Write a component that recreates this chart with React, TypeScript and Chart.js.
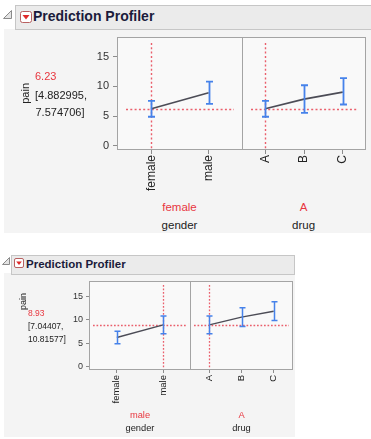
import React, { useEffect, useRef } from 'react';
import { Chart, registerables } from 'chart.js';

Chart.register(...registerables);

// ---------- data ----------
const genders = ['female', 'male'];
const drugs = ['A', 'B', 'C'];
const yTickLabels = [0, 5, 10, 15];
const yMinorTicks = [2.5, 7.5, 12.5, 17.5];
const yMin = -0.72;
const yMax = 18.33;
const responseName = 'pain';

// Profiler 1: gender = female, drug = A
const p1Gender = 'female';
const p1Drug = 'A';
const p1Pain = 6.23;
const p1PainText = '6.23';
const p1CI = ['[4.882995,', '7.574706]'];
const p1GenderPain = [6.23, 8.93];
const p1GenderLower = [4.882995, 7.04407];
const p1GenderUpper = [7.574706, 10.81577];
const p1DrugPain = [6.23, 7.85, 9.05];
const p1DrugLower = [4.882995, 5.55, 6.95];
const p1DrugUpper = [7.574706, 10.2, 11.4];

// Profiler 2: gender = male, drug = A
const p2Gender = 'male';
const p2Drug = 'A';
const p2Pain = 8.93;
const p2PainText = '8.93';
const p2CI = ['[7.04407,', '10.81577]'];
const p2GenderPain = [6.23, 8.93];
const p2GenderLower = [4.882995, 7.04407];
const p2GenderUpper = [7.574706, 10.81577];
const p2DrugPain = [8.93, 10.6, 11.85];
const p2DrugLower = [7.04407, 8.6, 9.85];
const p2DrugUpper = [10.81577, 12.6, 13.9];

const FONT = '"Liberation Sans", Arial, sans-serif';
const RED = '#e8363f';

type PanelProps = {
  left: number;
  top: number;
  width: number;
  height: number;
  categories: string[];
  values: number[];
  lower: number[];
  upper: number[];
  current: string;
  currentValue: number;
  yAxisWidth: number;
  padTop: number;
  xAxisHeight: number;
  small: boolean;
  yLabel?: { text: string; cx: number; cy: number; size: number };
};

function Panel(p: PanelProps) {
  const ref = useRef<HTMLCanvasElement>(null);
  useEffect(() => {
    const s = p.small;
    const showY = p.yAxisWidth > 0;
    const curIdx = p.categories.indexOf(p.current);
    const tickLen = s ? 3 : 4;
    const plugin: any = {
      id: 'profiler',
      beforeDraw(chart: any) {
        const { ctx, chartArea: a } = chart;
        ctx.save();
        ctx.fillStyle = '#f9f9f9';
        ctx.fillRect(a.left, a.top, a.right - a.left, a.bottom - a.top);
        ctx.restore();
      },
      beforeDatasetsDraw(chart: any) {
        const { ctx, chartArea: a, scales } = chart;
        const xs = scales.x;
        const ys = scales.y;
        ctx.save();
        ctx.strokeStyle = '#ea5f6c';
        ctx.lineWidth = s ? 1.3 : 1.4;
        ctx.setLineDash(s ? [1.7, 1.8] : [2, 2.3]);
        const trimH = s ? 4 : 9;
        const trimV = s ? 4 : 6;
        const yy = Math.round(ys.getPixelForValue(p.currentValue)) + 0.5;
        ctx.beginPath();
        ctx.moveTo(a.left + trimH, yy);
        ctx.lineTo(a.right - trimH, yy);
        ctx.stroke();
        const xx = Math.round(xs.getPixelForValue(curIdx)) + 0.5;
        ctx.beginPath();
        ctx.moveTo(xx, a.top + trimV);
        ctx.lineTo(xx, a.bottom);
        ctx.stroke();
        ctx.restore();
      },
      afterDatasetsDraw(chart: any) {
        const { ctx, scales } = chart;
        const xs = scales.x;
        const ys = scales.y;
        const cap = s ? 3 : 3.5;
        ctx.save();
        ctx.strokeStyle = '#4682ea';
        ctx.lineWidth = s ? 1.5 : 1.8;
        p.categories.forEach((_, i) => {
          const px = Math.round(xs.getPixelForValue(i)) + 0.5;
          const yl = ys.getPixelForValue(p.lower[i]);
          const yh = ys.getPixelForValue(p.upper[i]);
          ctx.beginPath();
          ctx.moveTo(px, yl);
          ctx.lineTo(px, yh);
          ctx.moveTo(px - cap, yl);
          ctx.lineTo(px + cap, yl);
          ctx.moveTo(px - cap, yh);
          ctx.lineTo(px + cap, yh);
          ctx.stroke();
        });
        ctx.restore();
      },
      afterDraw(chart: any) {
        const { ctx, chartArea: a } = chart;
        ctx.save();
        ctx.strokeStyle = '#a4a4a4';
        ctx.lineWidth = 1;
        ctx.strokeRect(a.left + 0.5, a.top + 0.5, a.right - a.left - 1, a.bottom - a.top - 1);
        if (p.yLabel) {
          const L = p.yLabel;
          ctx.translate(L.cx - p.left, L.cy - p.top);
          ctx.rotate(-Math.PI / 2);
          ctx.font = `${L.size}px ${FONT}`;
          ctx.fillStyle = '#222';
          ctx.textAlign = 'center';
          ctx.textBaseline = 'middle';
          ctx.fillText(L.text, 0, 0);
        }
        ctx.restore();
      },
    };
    const zeroPad = (sc: any) => {
      sc.paddingLeft = 0;
      sc.paddingRight = 0;
      sc.paddingTop = 0;
      sc.paddingBottom = 0;
    };
    const allY = [...yTickLabels, ...yMinorTicks].sort((a, b) => a - b);
    const chart = new Chart(ref.current as HTMLCanvasElement, {
      type: 'line',
      data: {
        datasets: [
          {
            data: p.values.map((v, i) => ({ x: i, y: v })),
            borderColor: '#4c4c56',
            borderWidth: s ? 1.4 : 1.7,
            pointRadius: 0,
            tension: 0,
            fill: false,
          },
        ],
      },
      options: {
        animation: false,
        responsive: false,
        maintainAspectRatio: false,
        devicePixelRatio: 1,
        events: [],
        layout: { padding: { top: p.padTop, left: 0, right: 0, bottom: 0 } },
        plugins: { legend: { display: false }, tooltip: { enabled: false } },
        scales: {
          x: {
            type: 'linear',
            min: -0.6,
            max: p.categories.length - 1 + 0.6,
            afterBuildTicks: (sc: any) => {
              sc.ticks = p.categories.map((_, i) => ({ value: i }));
            },
            afterFit: (sc: any) => {
              sc.height = p.xAxisHeight;
              zeroPad(sc);
            },
            ticks: {
              autoSkip: false,
              minRotation: 90,
              maxRotation: 90,
              padding: s ? 2 : 1,
              color: '#222',
              font: { family: FONT, size: s ? 9.5 : 12 },
              callback: (v: any) => p.categories[v as number] ?? '',
            },
            grid: {
              drawOnChartArea: false,
              drawTicks: true,
              tickLength: tickLen,
              tickColor: '#8c8c8c',
              tickWidth: 1,
            },
            border: { display: false },
          },
          y: {
            type: 'linear',
            display: showY,
            min: yMin,
            max: yMax,
            afterBuildTicks: (sc: any) => {
              sc.ticks = allY.map((v) => ({ value: v }));
            },
            afterFit: (sc: any) => {
              if (showY) sc.width = p.yAxisWidth;
              zeroPad(sc);
            },
            ticks: {
              padding: s ? 3 : 4,
              color: '#333',
              font: { family: FONT, size: s ? 9 : 11 },
              callback: (v: any) => (yTickLabels.includes(v as number) ? String(v) : ''),
            },
            grid: {
              drawOnChartArea: false,
              drawTicks: true,
              tickLength: tickLen,
              tickColor: '#8c8c8c',
              tickWidth: 1,
            },
            border: { display: false },
          },
        },
      } as any,
      plugins: [plugin],
    });
    return () => chart.destroy();
  }, []);
  return (
    <canvas
      ref={ref}
      width={p.width}
      height={p.height}
      style={{ position: 'absolute', left: p.left, top: p.top, width: p.width, height: p.height }}
    />
  );
}

function Txt(props: {
  x: number;
  y: number;
  size: number;
  color?: string;
  bold?: boolean;
  center?: boolean;
  children: React.ReactNode;
}) {
  const { x, y, size, color = '#222', bold, center, children } = props;
  return (
    <div
      style={{
        position: 'absolute',
        left: center ? x - 60 : x,
        top: y,
        width: center ? 120 : undefined,
        textAlign: center ? 'center' : 'left',
        fontSize: size,
        lineHeight: `${size}px`,
        fontWeight: bold ? 'bold' : 'normal',
        color,
        whiteSpace: 'nowrap',
        fontFamily: FONT,
      }}
    >
      {children}
    </div>
  );
}

export default function App() {
  return (
    <div
      style={{
        position: 'absolute',
        left: 0,
        top: 0,
        width: 371,
        height: 439,
        background: '#ffffff',
        overflow: 'hidden',
        fontFamily: FONT,
      }}
    >
      {/* region backgrounds */}
      <div style={{ position: 'absolute', left: 4, top: 29, width: 367, height: 204, background: '#f4f4f4' }} />
      <div style={{ position: 'absolute', left: 4, top: 273, width: 291, height: 164, background: '#f4f4f4' }} />
      {/* header bars */}
      <div
        style={{
          position: 'absolute',
          left: 15,
          top: 5,
          width: 360,
          height: 23,
          background: '#ebebeb',
          border: '1px solid #c6c6c6',
        }}
      />
      <div
        style={{
          position: 'absolute',
          left: 11,
          top: 255,
          width: 282,
          height: 18,
          background: '#ebebeb',
          border: '1px solid #c6c6c6',
        }}
      />
      <svg style={{ position: 'absolute', left: 0, top: 0 }} width={371} height={439}>
        <polygon points="11.5,10.5 11.5,18.5 3.5,18.5" fill="#e4e4e4" stroke="#8a8a8a" strokeWidth={1} />
        <rect x={20.5} y={11.5} width={11} height={11} rx={2} fill="#ffffff" stroke="#b86060" />
        <polygon points="22.5,15 29.5,15 26,19.5" fill="#e02a2a" />
        <polygon points="9.5,257.5 9.5,264.5 2.5,264.5" fill="#e4e4e4" stroke="#8a8a8a" strokeWidth={1} />
        <rect x={14.5} y={258.5} width={9} height={9} rx={1.5} fill="#ffffff" stroke="#b86060" />
        <polygon points="16.2,261.5 21.8,261.5 19,265" fill="#e02a2a" />
      </svg>
      <Txt x={33} y={9} size={14} bold color="#1b1b3b">
        Prediction Profiler
      </Txt>
      <Txt x={26} y={258.5} size={11.5} bold color="#1b1b3b">
        Prediction Profiler
      </Txt>

      {/* ---------- profiler 1 ---------- */}
      <Panel
        left={0}
        top={30}
        width={243}
        height={170}
        categories={genders}
        values={p1GenderPain}
        lower={p1GenderLower}
        upper={p1GenderUpper}
        current={p1Gender}
        currentValue={p1Pain}
        yAxisWidth={117}
        padTop={7}
        xAxisHeight={50}
        small={false}
        yLabel={{ text: responseName, cx: 25.5, cy: 93.4, size: 11 }}
      />
      <Panel
        left={242}
        top={30}
        width={124}
        height={170}
        categories={drugs}
        values={p1DrugPain}
        lower={p1DrugLower}
        upper={p1DrugUpper}
        current={p1Drug}
        currentValue={p1Pain}
        yAxisWidth={0}
        padTop={7}
        xAxisHeight={50}
        small={false}
      />
      <Txt x={35} y={71.3} size={11} color={RED}>
        {p1PainText}
      </Txt>
      <Txt x={35} y={89.5} size={11}>
        {p1CI[0]}
      </Txt>
      <Txt x={35.5} y={106.5} size={11}>
        {p1CI[1]}
      </Txt>
      <Txt x={179.5} y={202.3} size={11.5} color={RED} center>
        {p1Gender}
      </Txt>
      <Txt x={179.5} y={220} size={11.5} center>
        gender
      </Txt>
      <Txt x={303.6} y={202.3} size={11.5} color={RED} center>
        {p1Drug}
      </Txt>
      <Txt x={303.6} y={220} size={11.5} center>
        drug
      </Txt>

      {/* ---------- profiler 2 ---------- */}
      <Panel
        left={0}
        top={274}
        width={191}
        height={140}
        categories={genders}
        values={p2GenderPain}
        lower={p2GenderLower}
        upper={p2GenderUpper}
        current={p2Gender}
        currentValue={p2Pain}
        yAxisWidth={89}
        padTop={7}
        xAxisHeight={44}
        small={true}
        yLabel={{ text: responseName, cx: 23.2, cy: 301.5, size: 9 }}
      />
      <Panel
        left={190}
        top={274}
        width={103}
        height={140}
        categories={drugs}
        values={p2DrugPain}
        lower={p2DrugLower}
        upper={p2DrugUpper}
        current={p2Drug}
        currentValue={p2Pain}
        yAxisWidth={0}
        padTop={7}
        xAxisHeight={44}
        small={true}
      />
      <Txt x={28} y={309} size={8.5} color={RED}>
        {p2PainText}
      </Txt>
      <Txt x={28} y={321.5} size={8.5}>
        {p2CI[0]}
      </Txt>
      <Txt x={28} y={334.5} size={8.5}>
        {p2CI[1]}
      </Txt>
      <Txt x={140} y={411} size={9.3} color={RED} center>
        {p2Gender}
      </Txt>
      <Txt x={140} y={424} size={9.3} center>
        gender
      </Txt>
      <Txt x={241.5} y={411} size={9.3} color={RED} center>
        {p2Drug}
      </Txt>
      <Txt x={241.5} y={424} size={9.3} center>
        drug
      </Txt>
    </div>
  );
}
